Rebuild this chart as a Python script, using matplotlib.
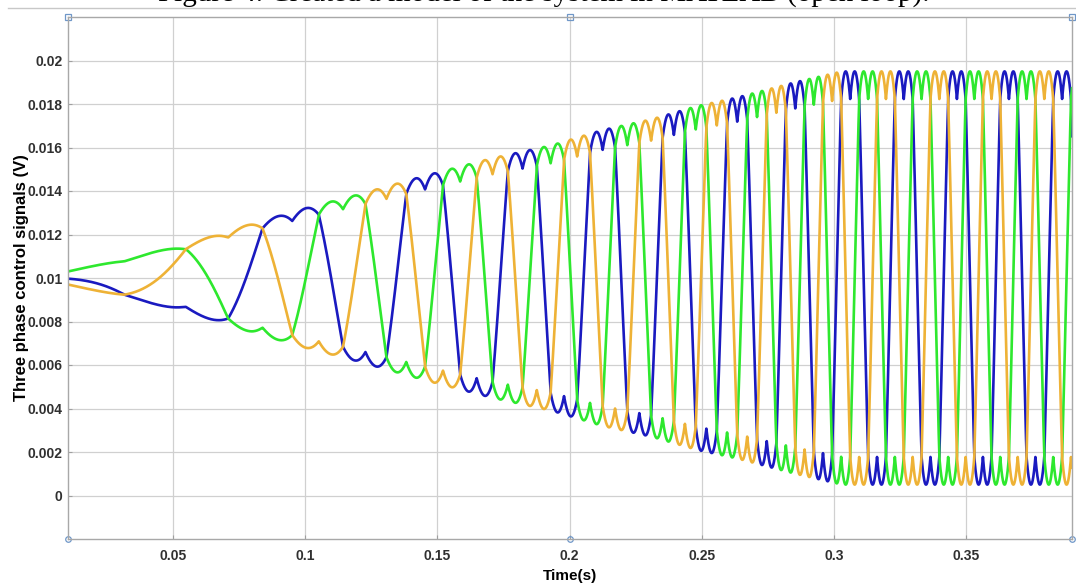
import numpy as np
import matplotlib
matplotlib.use("Agg")
import matplotlib.pyplot as plt
from matplotlib.lines import Line2D

# ---------------- values ----------------
# times (s) at which the blue phase passes the centre of its top saddle
blue_top_times = [0.0951, 0.1453, 0.1823, 0.2124, 0.2395, 0.2634, 0.2853,
                  0.3060, 0.3262, 0.3464, 0.3659, 0.3861]
# height of the top humps above the centre level (V) at given times (s)
env_times = [0.0103, 0.054, 0.080, 0.100, 0.119, 0.1453, 0.1705, 0.1932,
             0.2124, 0.2311, 0.2481, 0.2634, 0.2853, 0.303, 0.390]
env_heights = [0.0003, 0.0015, 0.0025, 0.0032, 0.0038, 0.0047, 0.0055, 0.0061,
               0.0068, 0.0073, 0.0079, 0.0083, 0.0090, 0.0095, 0.0095]
centre_level = 0.010
phase_names = ["Phase A", "Phase B", "Phase C"]
phase_shifts_deg = [0, -120, 120]
phase_colors = ["#1a1ac0", "#2ee82e", "#eeb236"]

x_ticks = [0.05, 0.10, 0.15, 0.20, 0.25, 0.30, 0.35]
x_tick_labels = ["0.05", "0.1", "0.15", "0.2", "0.25", "0.3", "0.35"]
y_ticks = [0.0, 0.002, 0.004, 0.006, 0.008, 0.010, 0.012, 0.014, 0.016, 0.018, 0.020]
y_tick_labels = ["0", "0.002", "0.004", "0.006", "0.008", "0.01", "0.012",
                 "0.014", "0.016", "0.018", "0.02"]
x_range = (0.0103, 0.390)
y_range = (-0.002, 0.022)
cursor_times = [x_range[0], 0.2, x_range[1]]

title_text = "Figure 4. Created a model of the system in MATLAB (open loop)."
x_label = "Time(s)"
y_label = "Three phase control signals (V)"

# ---------------- build the waveforms from the read values ----------------
bt = np.array(blue_top_times)
mid_t = 0.5 * (bt[1:] + bt[:-1])
freq = 1.0 / np.diff(bt)
fk_t = np.concatenate([[0.0], mid_t])
fk_f = np.concatenate([[0.0], freq])

t = np.linspace(0.0, x_range[1], 60001)
f = np.interp(t, fk_t, fk_f)
cyc = np.concatenate([[0.0], np.cumsum(0.5 * (f[1:] + f[:-1]) * np.diff(t))])
cyc += 1.25 - np.interp(bt[0], t, cyc)
theta = 2 * np.pi * cyc

raw = np.array([np.sin(theta + np.deg2rad(s)) for s in phase_shifts_deg])
offset = 0.5 * (raw.max(axis=0) + raw.min(axis=0))
amp = np.interp(t, env_times, env_heights) / (np.sqrt(3) / 2)
signals = centre_level + amp * (raw - offset)
keep = t >= x_range[0]

# ---------------- figure ----------------
W, H = 1076, 586
fig = plt.figure(figsize=(W / 100, H / 100), dpi=100)
fig.patch.set_facecolor("white")
ax = fig.add_axes([68 / W, 1 - 539 / H, (1072 - 68) / W, (539 - 17) / H])

for name, col, sig in zip(phase_names, phase_colors, signals):
    ax.plot(t[keep], sig[keep], color=col, lw=1.9, label=name, solid_joinstyle="round")

ax.set_xlim(*x_range)
ax.set_ylim(*y_range)
ax.set_xticks(x_ticks)
ax.set_xticklabels(x_tick_labels)
ax.set_yticks(y_ticks)
ax.set_yticklabels(y_tick_labels)
ax.grid(True, color="#d0d0d0", lw=0.9)
ax.set_axisbelow(True)
for sp in ax.spines.values():
    sp.set_color("#a8a8a8")
    sp.set_linewidth(1.0)
ax.tick_params(direction="in", length=3, width=0.8, color="#a0a0a0",
               labelsize=10, labelcolor="#303030", top=False, right=False)
ax.tick_params(axis="x", pad=7)
ax.tick_params(axis="y", pad=4)
for lab in ax.get_xticklabels() + ax.get_yticklabels():
    lab.set_fontweight("bold")
    lab.set_fontfamily("Liberation Sans")

ax.set_xlabel(x_label, fontsize=11, fontweight="bold", fontfamily="Liberation Sans")
ax.set_ylabel(y_label, fontsize=12, fontweight="bold", fontfamily="Liberation Sans")
ax.xaxis.set_label_coords(0.5, (539 - 569) / (539 - 17))
ax.yaxis.set_label_coords((29 - 68) / (1072 - 68), 0.5)

# small cursor markers on the frame
for ct in cursor_times:
    ax.plot([ct], [y_range[1]], marker="s", ms=4, mfc="none", mec="#6f97c8",
            mew=0.9, clip_on=False)
    ax.plot([ct], [y_range[0]], marker="o", ms=4, mfc="none", mec="#6f97c8",
            mew=0.9, clip_on=False)

# clipped caption at the top and its rule
fig.text(0.505, 1 - 1.5 / H, title_text, ha="center", va="baseline",
         fontsize=21, fontfamily="Liberation Serif", color="black")
fig.add_artist(Line2D([8 / W, 1.0], [1 - 7.5 / H] * 2, color="#c8c8c8", lw=1.0))

fig.savefig("out.png", dpi=100, facecolor="white")
